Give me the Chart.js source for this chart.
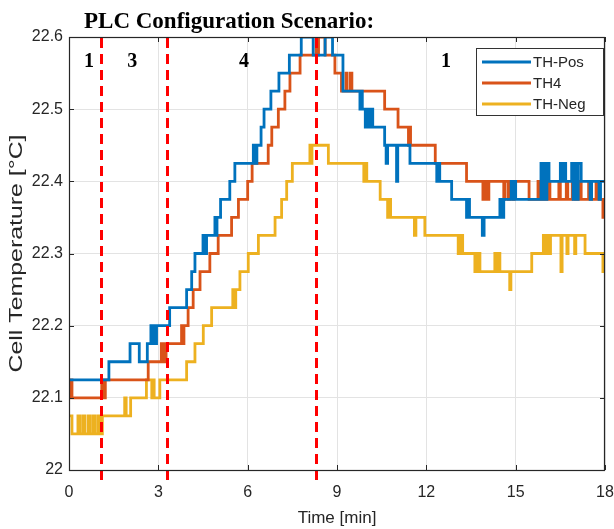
<!DOCTYPE html>
<html>
<head>
<meta charset="utf-8">
<script src="https://cdn.jsdelivr.net/npm/chart.js@4.4.0/dist/chart.umd.min.js"></script>
<style>
  html, body { margin: 0; padding: 0; background: #fff; }
</style>
</head>
<body>
<canvas id="myChart" width="614" height="529"></canvas>
<script>
// step points: at time t (min) the reading changes to the given temperature (°C)
const posTimes = [0, 1.34, 2.05, 2.36, 2.63, 2.75, 2.79, 2.82, 2.85, 2.88, 2.91, 2.94, 3.38, 3.95, 4.12, 4.23, 4.5, 4.53, 4.56, 4.59, 4.62, 4.9, 4.94, 4.97, 5.09, 5.4, 5.57, 6.19, 6.22, 6.25, 6.28, 6.31, 6.45, 6.55, 6.78, 7.05, 7.4, 7.8, 8.2, 8.6, 8.85, 9.2, 9.77, 9.8, 9.85, 9.95, 10.0, 10.08, 10.13, 10.2, 10.6, 10.65, 10.7, 11.0, 11.04, 11.45, 12.35, 12.4, 12.45, 12.85, 13.35, 13.4, 13.45, 13.88, 13.94, 14.47, 14.55, 14.6, 14.85, 14.9, 14.95, 15.0, 15.85, 15.9, 15.95, 16.0, 16.05, 16.12, 16.5, 16.55, 16.62, 16.68, 16.88, 16.93, 16.98, 17.05, 17.1, 17.2, 17.5, 17.55, 17.8, 17.85, 18];
const posTemps = [22.125, 22.15, 22.175, 22.15, 22.175, 22.2, 22.175, 22.2, 22.175, 22.2, 22.175, 22.2, 22.225, 22.25, 22.275, 22.3, 22.325, 22.3, 22.325, 22.3, 22.325, 22.35, 22.325, 22.35, 22.375, 22.4, 22.425, 22.45, 22.425, 22.45, 22.425, 22.45, 22.475, 22.5, 22.525, 22.55, 22.575, 22.6, 22.575, 22.6, 22.575, 22.525, 22.5, 22.525, 22.5, 22.475, 22.5, 22.475, 22.5, 22.475, 22.45, 22.425, 22.45, 22.4, 22.45, 22.425, 22.4, 22.425, 22.4, 22.375, 22.35, 22.375, 22.35, 22.325, 22.35, 22.375, 22.35, 22.375, 22.4, 22.375, 22.4, 22.375, 22.425, 22.375, 22.425, 22.375, 22.425, 22.4, 22.425, 22.4, 22.425, 22.4, 22.425, 22.375, 22.425, 22.375, 22.425, 22.4, 22.375, 22.4, 22.375, 22.4, 22.4];

const th4Times = [0, 0.04, 0.07, 0.1, 1.1, 1.13, 1.16, 1.19, 1.22, 2.66, 3.1, 3.14, 3.18, 3.22, 3.26, 3.78, 3.82, 3.86, 4.0, 4.17, 4.4, 4.73, 5.01, 5.46, 5.69, 6.0, 6.15, 6.69, 6.81, 7.03, 7.25, 7.42, 7.76, 8.3, 8.34, 8.38, 8.6, 8.93, 9.15, 9.3, 9.34, 9.45, 9.5, 10.6, 11.05, 11.4, 11.43, 11.47, 12.3, 13.35, 13.9, 13.96, 14.05, 14.1, 14.6, 14.64, 14.75, 14.8, 14.9, 14.95, 15.45, 15.75, 15.8, 16.1, 16.15, 16.45, 16.5, 16.7, 16.75, 16.9, 17.0, 17.15, 17.2, 17.45, 17.5, 17.7, 17.75, 17.93, 18];
const th4Temps = [22.125, 22.1, 22.125, 22.1, 22.125, 22.1, 22.125, 22.1, 22.125, 22.15, 22.175, 22.15, 22.175, 22.15, 22.175, 22.2, 22.175, 22.2, 22.225, 22.25, 22.275, 22.3, 22.325, 22.35, 22.375, 22.4, 22.425, 22.45, 22.475, 22.5, 22.525, 22.55, 22.575, 22.6, 22.575, 22.6, 22.575, 22.55, 22.525, 22.55, 22.525, 22.55, 22.525, 22.5, 22.475, 22.45, 22.475, 22.45, 22.425, 22.4, 22.375, 22.4, 22.375, 22.4, 22.375, 22.4, 22.375, 22.4, 22.375, 22.4, 22.375, 22.4, 22.375, 22.4, 22.375, 22.4, 22.375, 22.4, 22.375, 22.4, 22.375, 22.4, 22.375, 22.4, 22.375, 22.4, 22.375, 22.35, 22.35];

const negTimes = [0, 0.1, 0.3, 0.38, 0.48, 0.54, 0.65, 0.72, 0.82, 0.88, 0.98, 1.04, 1.12, 1.87, 1.92, 2.07, 2.6, 2.78, 2.82, 2.86, 3.05, 3.95, 4.23, 4.51, 4.79, 5.5, 5.55, 5.6, 5.74, 6.02, 6.36, 6.92, 7.14, 7.31, 7.5, 8.09, 8.12, 8.16, 8.71, 9.9, 9.95, 10.0, 10.45, 10.7, 10.74, 10.8, 11.6, 11.65, 11.95, 13.07, 13.1, 13.14, 13.18, 13.22, 13.63, 13.67, 13.72, 13.76, 13.8, 14.3, 14.35, 14.42, 14.47, 14.8, 14.84, 15.54, 15.93, 15.98, 16.05, 16.1, 16.17, 16.52, 16.56, 16.72, 16.76, 16.98, 17.02, 17.33, 17.93, 18];
const negTemps = [22.075, 22.05, 22.075, 22.05, 22.075, 22.05, 22.075, 22.05, 22.075, 22.05, 22.075, 22.05, 22.075, 22.1, 22.075, 22.1, 22.125, 22.1, 22.125, 22.1, 22.125, 22.15, 22.175, 22.2, 22.225, 22.25, 22.225, 22.25, 22.275, 22.3, 22.325, 22.35, 22.375, 22.4, 22.425, 22.45, 22.425, 22.45, 22.425, 22.4, 22.425, 22.4, 22.375, 22.35, 22.375, 22.35, 22.325, 22.35, 22.325, 22.3, 22.325, 22.3, 22.325, 22.3, 22.275, 22.3, 22.275, 22.3, 22.275, 22.3, 22.275, 22.3, 22.275, 22.25, 22.275, 22.3, 22.325, 22.3, 22.325, 22.3, 22.325, 22.275, 22.325, 22.3, 22.325, 22.3, 22.325, 22.3, 22.275, 22.275];

const seriesNames = ['TH-Pos', 'TH4', 'TH-Neg'];
const seriesColors = ['#0072BD', '#D95319', '#EDB120'];

// PLC configuration changes
const phaseTimes = [1.07, 3.3, 8.3];
const phaseLabels = ['1', '3', '4', '1'];
const phaseLabelTimes = [0.67, 2.12, 5.88, 12.66];

const xTicks = [0, 3, 6, 9, 12, 15, 18];
const yTicks = [22, 22.1, 22.2, 22.3, 22.4, 22.5, 22.6];
const yTickLabels = ['22', '22.1', '22.2', '22.3', '22.4', '22.5', '22.6'];
const yTitle = 'Cell Temperature [°C]';

const toPoints = (ts, vs) => ts.map((t, i) => ({ x: t, y: vs[i] }));

const seriesData = [
  toPoints(posTimes, posTemps),
  toPoints(th4Times, th4Temps),
  toPoints(negTimes, negTemps)
];

const axisColor = '#262626';
const sansFont = "'Liberation Sans', Arial, sans-serif";
const serifFont = "'Liberation Serif', 'Times New Roman', serif";

// red dashed lines, box, inward ticks, legend and the text on top
const overlay = {
  id: 'overlay',
  afterDatasetsDraw(chart) {
    const { ctx, chartArea: a, scales: { x, y } } = chart;
    ctx.save();

    // phase lines
    ctx.strokeStyle = '#ff0000';
    ctx.lineWidth = 3;
    ctx.setLineDash([10, 6]);
    phaseTimes.forEach(t => {
      const px = Math.round(x.getPixelForValue(t)) + 0.5;
      ctx.beginPath();
      ctx.moveTo(px, a.top + 1);
      ctx.lineTo(px, a.bottom + 12);
      ctx.stroke();
    });
    ctx.setLineDash([]);

    // axes box
    ctx.strokeStyle = axisColor;
    ctx.lineWidth = 1.2;
    ctx.strokeRect(a.left + 0.5, a.top + 0.5, a.right - a.left - 1, a.bottom - a.top);

    // ticks pointing inward
    ctx.lineWidth = 1;
    ctx.beginPath();
    xTicks.forEach(v => {
      const px = Math.round(x.getPixelForValue(v)) + 0.5;
      ctx.moveTo(px, a.bottom); ctx.lineTo(px, a.bottom - 5);
      ctx.moveTo(px, a.top); ctx.lineTo(px, a.top + 5);
    });
    yTicks.forEach(v => {
      const py = Math.round(y.getPixelForValue(v)) + 0.5;
      ctx.moveTo(a.left, py); ctx.lineTo(a.left + 5, py);
      ctx.moveTo(a.right, py); ctx.lineTo(a.right - 5, py);
    });
    ctx.stroke();

    // legend
    const lx = 476, ly = 48, lw = 127, lh = 67;
    ctx.fillStyle = '#ffffff';
    ctx.fillRect(lx, ly, lw, lh);
    ctx.strokeStyle = '#333333';
    ctx.lineWidth = 1;
    ctx.strokeRect(lx + 0.5, ly + 0.5, lw, lh);
    ctx.font = '15px ' + sansFont;
    ctx.textBaseline = 'middle';
    ctx.textAlign = 'left';
    chart.data.datasets.forEach((ds, i) => {
      const rowY = ly + 14 + i * 21;
      ctx.strokeStyle = ds.borderColor;
      ctx.lineWidth = 3;
      ctx.beginPath();
      ctx.moveTo(lx + 6, rowY);
      ctx.lineTo(lx + 55, rowY);
      ctx.stroke();
      ctx.fillStyle = axisColor;
      ctx.fillText(ds.label, lx + 57, rowY + 1);
    });

    // y axis title, stretched along its length like the source figure
    ctx.save();
    ctx.translate(17, (a.top + a.bottom) / 2);
    ctx.rotate(-Math.PI / 2);
    ctx.font = '18px ' + sansFont;
    const natural = ctx.measureText(yTitle).width;
    ctx.scale(238 / natural, 1);
    ctx.fillStyle = axisColor;
    ctx.textAlign = 'center';
    ctx.textBaseline = 'middle';
    ctx.fillText(yTitle, 0, 0);
    ctx.restore();

    // title and phase numbers
    ctx.fillStyle = '#000000';
    ctx.textBaseline = 'alphabetic';
    ctx.textAlign = 'left';
    ctx.font = 'bold 23px ' + serifFont;
    ctx.fillText('PLC Configuration Scenario:', 84, 28);
    ctx.font = 'bold 20px ' + serifFont;
    ctx.textAlign = 'center';
    phaseLabels.forEach((lab, i) => {
      ctx.fillText(lab, x.getPixelForValue(phaseLabelTimes[i]), 67);
    });
    ctx.restore();
  }
};

new Chart(document.getElementById('myChart'), {
  type: 'line',
  data: {
    datasets: seriesData.map((pts, i) => ({
      label: seriesNames[i],
      data: pts,
      borderColor: seriesColors[i],
      backgroundColor: seriesColors[i],
      borderWidth: 2.8,
      stepped: true,
      pointRadius: 0,
      fill: false
    }))
  },
  options: {
    responsive: false,
    animation: false,
    layout: { padding: { top: 37, right: 9, left: 0, bottom: 0 } },
    plugins: {
      legend: { display: false },
      tooltip: { enabled: false }
    },
    scales: {
      x: {
        type: 'linear',
        min: 0,
        max: 18,
        afterBuildTicks: s => { s.ticks = xTicks.map(v => ({ value: v })); },
        afterFit: s => { s.height = 59; s.paddingLeft = 0; s.paddingRight = 0; },
        ticks: {
          color: axisColor,
          font: { family: sansFont, size: 16 },
          padding: 13,
          maxRotation: 0,
          callback: v => String(v)
        },
        grid: { color: '#e3e3e3', drawTicks: false },
        border: { display: false },
        title: {
          display: true,
          text: 'Time [min]',
          color: axisColor,
          font: { family: sansFont, size: 17 },
          padding: { top: 2, bottom: 0 }
        }
      },
      y: {
        min: 22,
        max: 22.6,
        afterBuildTicks: s => { s.ticks = yTicks.map(v => ({ value: v })); },
        afterFit: s => { s.width = 69; s.paddingTop = 0; s.paddingBottom = 0; },
        ticks: {
          color: axisColor,
          font: { family: sansFont, size: 16 },
          padding: 6,
          callback: (v, i) => yTickLabels[i]
        },
        grid: { color: '#e3e3e3', drawTicks: false },
        border: { display: false }
      }
    }
  },
  plugins: [overlay]
});
</script>
</body>
</html>
